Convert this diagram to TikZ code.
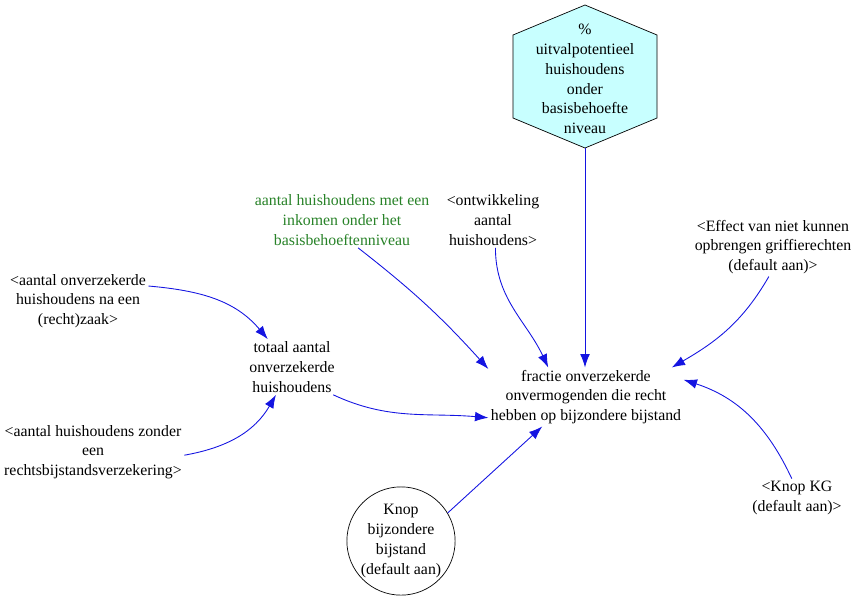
\documentclass[tikz,border=0pt]{standalone}
\usepackage{fontspec}
\setmainfont{Liberation Serif}
\usepackage{tikz}
\usetikzlibrary{positioning,arrows.meta,shapes}
\usepackage{xcolor}
\definecolor{LinkBlue}{RGB}{20, 20, 225}
\definecolor{VarGreen}{RGB}{40, 130, 40}
\definecolor{HexCyan}{RGB}{200, 255, 255}

\begin{document}
\begin{tikzpicture}[x=0.03cm,y=-0.03cm,
    every node/.style={font=\fontsize{13.5}{16.8}\selectfont,align=center,inner sep=2pt},
    link/.style={-{Latex[length=4mm,width=2.9mm]},LinkBlue,line width=0.75pt}]
    \useasboundingbox (0,0) rectangle (865,605);
    % hexagon
    \draw[fill=HexCyan,line width=0.6pt] (585,5) -- (657,35) -- (657,118) -- (585,148) -- (513,118) -- (513,35) -- cycle;
    \node (pct) at (585,79) {\%\\uitvalpotentieel\\huishoudens\\onder\\basisbehoefte\\niveau};
    \coordinate (pctbot) at (585,148);
    \node[text=VarGreen] (inkomen) at (342,220) {aantal huishoudens met een\\inkomen onder het\\basisbehoeftenniveau};
    \node (ontw) at (493,220) {<ontwikkeling\\aantal\\huishoudens>};
    \node (effect) at (773,247) {<Effect van niet kunnen\\opbrengen griffierechten\\(default aan)>};
    \node (zaak) at (78,301) {<aantal onverzekerde\\huishoudens na een\\(recht)zaak>};
    \node (totaal) at (292,367) {totaal aantal\\onverzekerde\\huishoudens};
    \node (zonder) at (93,452) {<aantal huishoudens zonder\\een\\rechtsbijstandsverzekering>};
    \node (fractie) at (586,397) {fractie onverzekerde\\onvermogenden die recht\\hebben op bijzondere bijstand};
    \node[draw,circle,line width=0.6pt,minimum size=3.06cm,inner sep=0pt] (knop) at (401,541) {Knop\\bijzondere\\bijstand\\(default aan)};
    \node (kg) at (797,498) {<Knop KG\\(default aan)>};
    \draw[link] (pctbot) -- (pctbot |- fractie.north);
    \draw[link] (inkomen.-60) to[bend left=5] (fractie.164);
    \draw[link] (ontw.-85) to[out=-90,in=115] (fractie.142);
    \draw[link] (effect.-98) to[out=-120,in=30] (fractie.19);
    \draw[link] (zaak.12) to[out=-5,in=130] (totaal.131);
    \draw[link] (zonder.-2) to[out=10,in=-120] (totaal.240);
    \draw[link] (totaal.-34) to[out=-25,in=175] (fractie.192);
    \draw[link] (knop.31) -- (fractie.214);
    \draw[link] (kg.105) to[out=115,in=-18] (fractie.10);
  \end{tikzpicture}
\end{document}
